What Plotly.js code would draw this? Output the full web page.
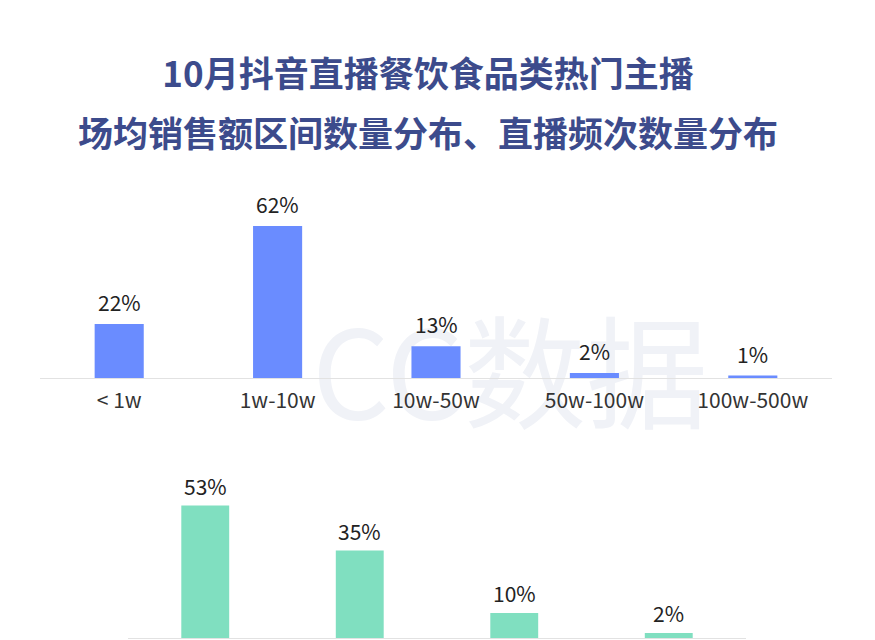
<!DOCTYPE html>
<html>
<head>
<meta charset="utf-8">
<script src="https://cdn.plot.ly/plotly-3.0.1.min.js"></script>
<style>html,body{margin:0;padding:0;background:#fff;}#chart{width:875px;height:640px;}</style>
</head>
<body>
<div id="chart"></div>
<script>
// ---- data ----
var titleLine1 = '10月抖音直播餐饮食品类热门主播';
var titleLine2 = '场均销售额区间数量分布、直播频次数量分布';
var salesCategories = ['< 1w', '1w-10w', '10w-50w', '50w-100w', '100w-500w'];
var salesValues = [22, 62, 13, 2, 1];
var freqCategories = ['A', 'B', 'C', 'D'];
var freqValues = [53, 35, 10, 2];
var watermarkText = 'CC数据';

var blue = '#6a8cff';
var green = '#80dfc0';
var FONT = '"Noto Sans CJK SC", "Noto Sans", sans-serif';

var traces = [
  {type:'bar', x:salesCategories, y:salesValues, xaxis:'x', yaxis:'y',
   marker:{color:blue}, hoverinfo:'none'},
  {type:'bar', x:freqCategories, y:freqValues, xaxis:'x2', yaxis:'y2',
   marker:{color:green}, hoverinfo:'none'}
];

var annotations = [];
salesCategories.forEach(function(c,i){
  annotations.push({xref:'x', yref:'y', x:c, y:salesValues[i], text:salesValues[i]+'%',
    showarrow:false, yanchor:'bottom', yshift:5, font:{size:21, color:'#222', family:FONT}});
});
freqCategories.forEach(function(c,i){
  annotations.push({xref:'x2', yref:'y2', x:c, y:freqValues[i], text:freqValues[i]+'%',
    showarrow:false, yanchor:'bottom', yshift:3, font:{size:21, color:'#222', family:FONT}});
});
annotations.push({xref:'paper', yref:'paper', x:428/875, y:1-131/640, xanchor:'center', yanchor:'middle',
  text:'<b>'+titleLine2+'</b>', showarrow:false, font:{size:35, color:'#3c4b8c', family:FONT}});

var layout = {
  width:875, height:640,
  margin:{l:0, r:0, t:0, b:0},
  paper_bgcolor:'#ffffff', plot_bgcolor:'rgba(0,0,0,0)',
  showlegend:false,
  bargap:0.69,
  font:{family:FONT, color:'#333'},
  title:{text:'<b>'+titleLine1+'</b>', x:428/875, xanchor:'center', y:1-75/640, yanchor:'middle',
         font:{size:35, color:'#3c4b8c', family:FONT}},
  xaxis:{domain:[40/875, 832/875], anchor:'y', showline:true, linecolor:'#e2e2e2', linewidth:1,
         showgrid:false, zeroline:false, ticks:'', ticklabelstandoff:4,
         tickfont:{size:21, color:'#333', family:FONT}, fixedrange:true},
  yaxis:{domain:[1-378/640, 1-190/640], anchor:'x', range:[0, 188/2.45], visible:false, fixedrange:true},
  xaxis2:{domain:[128/875, 746/875], anchor:'y2', showline:true, linecolor:'#e2e2e2', linewidth:1,
         showgrid:false, zeroline:false, ticks:'', showticklabels:false, fixedrange:true},
  yaxis2:{domain:[1-638/640, 1-470/640], anchor:'x2', range:[0, 168/2.5], visible:false, fixedrange:true},
  annotations:annotations,
  shapes:[{type:'rect', xref:'paper', yref:'paper', x0:300/875, x1:720/875, y0:1-445/640, y1:1-325/640,
           layer:'below', line:{width:0}, fillcolor:'rgba(0,0,0,0)',
           label:{text:watermarkText, textposition:'middle center',
                  font:{size:122, color:'#f0f2f7', family:FONT}}}]
};

Plotly.newPlot('chart', traces, layout, {displayModeBar:false, staticPlot:true});
</script>
</body>
</html>
